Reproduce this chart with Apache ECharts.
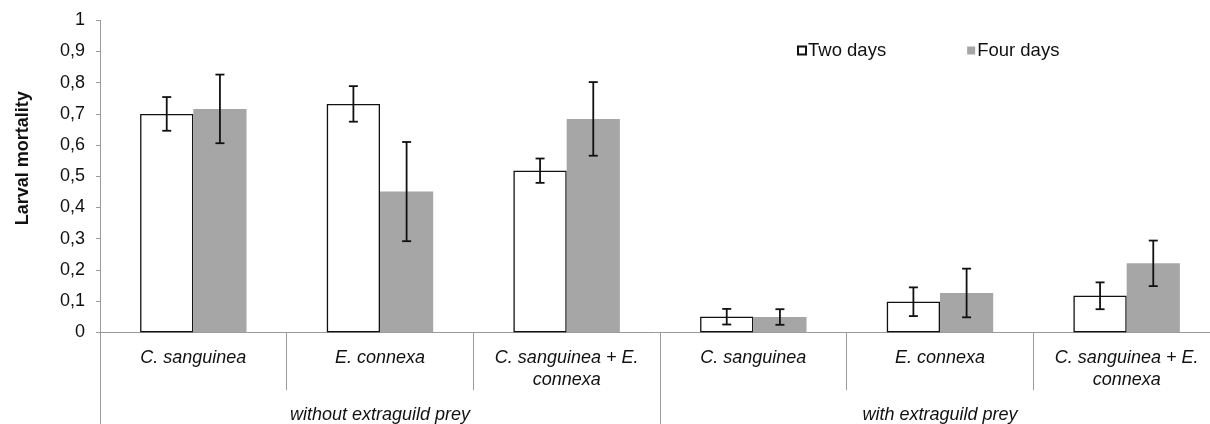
<!DOCTYPE html>
<html>
<head>
<meta charset="utf-8">
<script src="https://cdn.jsdelivr.net/npm/echarts@6/dist/echarts.min.js"></script>
<style>
html,body{margin:0;padding:0;background:#fff;}
#chart{width:1210px;height:424px;}
</style>
</head>
<body>
<div id="chart"></div>
<script>
var categories = ['C. sanguinea', 'E. connexa', 'C. sanguinea + E.\nconnexa', 'C. sanguinea', 'E. connexa', 'C. sanguinea + E.\nconnexa'];
var groups = ['without extraguild prey', 'with extraguild prey'];
var seriesNames = ['Two days', 'Four days'];
var twoDays = [0.700, 0.732, 0.518, 0.050, 0.098, 0.117];
var twoDaysErr = [0.054, 0.057, 0.039, 0.025, 0.046, 0.043];
var fourDays = [0.716, 0.451, 0.684, 0.049, 0.126, 0.221];
var fourDaysErr = [0.110, 0.159, 0.118, 0.025, 0.078, 0.073];
var yTicks = [0, 0.1, 0.2, 0.3, 0.4, 0.5, 0.6, 0.7, 0.8, 0.9, 1];

var FONT = 'Liberation Sans, Arial, sans-serif';
var AXIS_GRAY = '#9a9a9a';
var GRAY_FILL = '#a6a6a6';
var CAT_GAP = 0.43;

function errData(vals, errs) {
  return vals.map(function (v, i) { return [i, v, errs[i]]; });
}

function errRender(side) {
  return function (params, api) {
    var idx = api.value(0);
    var v = api.value(1);
    var e = api.value(2);
    var band = api.size([1, 0])[0];
    var bw = band * (1 - CAT_GAP) / 2;
    var c = api.coord([idx, v]);
    var x = c[0] + side * bw / 2;
    var top = api.coord([idx, v + e])[1];
    var bot = api.coord([idx, v - e])[1];
    var cap = 4.5;
    var st = { stroke: '#111', lineWidth: 1.8 };
    return {
      type: 'group',
      children: [
        { type: 'line', shape: { x1: x, y1: top, x2: x, y2: bot }, style: st },
        { type: 'line', shape: { x1: x - cap, y1: top, x2: x + cap, y2: top }, style: st },
        { type: 'line', shape: { x1: x - cap, y1: bot, x2: x + cap, y2: bot }, style: st }
      ]
    };
  };
}

var chart = echarts.init(document.getElementById('chart'), null, { renderer: 'canvas' });
chart.setOption({
  animation: false,
  backgroundColor: '#fff',
  textStyle: { fontFamily: FONT },
  grid: { left: 100, width: 1120, top: 20.3, height: 312, containLabel: false, outerBoundsMode: 'none' },
  legend: {
    data: seriesNames,
    left: 797,
    top: 41,
    padding: 0,
    icon: 'rect',
    itemWidth: 8,
    itemHeight: 8,
    itemGap: 81,
    textStyle: { fontFamily: FONT, fontSize: 18.5, color: '#111', padding: [0, 0, 0, -3] }
  },
  xAxis: [
    {
      type: 'category',
      data: categories,
      position: 'bottom',
      axisLine: { show: true, lineStyle: { color: AXIS_GRAY, width: 1 } },
      axisTick: { show: true, interval: 0, length: 58, lineStyle: { color: AXIS_GRAY } },
      axisLabel: {
        interval: 0, margin: 15, fontFamily: FONT, fontSize: 18, fontStyle: 'italic',
        color: '#111', lineHeight: 22
      },
      splitLine: { show: false }
    },
    {
      type: 'category',
      data: groups,
      position: 'bottom',
      axisLine: { show: false },
      axisTick: { show: true, interval: 0, length: 92, lineStyle: { color: AXIS_GRAY } },
      axisLabel: {
        interval: 0, margin: 74, fontFamily: FONT, fontSize: 18, fontStyle: 'italic', color: '#111'
      },
      splitLine: { show: false }
    }
  ],
  yAxis: {
    type: 'value',
    min: 0,
    max: 1,
    interval: 0.1,
    name: 'Larval mortality',
    nameLocation: 'middle',
    nameGap: 68,
    nameTextStyle: { fontFamily: FONT, fontSize: 18, fontWeight: 'bold', color: '#111', padding: [0, 0, 0, 36] },
    axisLine: { show: true, lineStyle: { color: AXIS_GRAY, width: 1 } },
    axisTick: { show: true, length: 4, lineStyle: { color: AXIS_GRAY } },
    axisLabel: {
      margin: 15, fontFamily: FONT, fontSize: 18, color: '#111',
      formatter: function (v) {
        var t = yTicks.filter(function (k) { return Math.abs(k - v) < 1e-9; });
        var val = t.length ? t[0] : v;
        return String(Math.round(val * 10) / 10).replace('.', ',');
      }
    },
    splitLine: { show: false }
  },
  series: [
    {
      name: seriesNames[0],
      type: 'bar',
      data: twoDays,
      barGap: '0%',
      barCategoryGap: (CAT_GAP * 100) + '%',
      itemStyle: { color: '#ffffff', borderColor: '#111', borderWidth: 1.3 }
    },
    {
      name: seriesNames[1],
      type: 'bar',
      data: fourDays,
      barGap: '0%',
      barCategoryGap: (CAT_GAP * 100) + '%',
      itemStyle: { color: GRAY_FILL, borderWidth: 0 }
    },
    {
      type: 'custom',
      name: 'err2',
      renderItem: errRender(-1),
      encode: { x: 0, y: 1 },
      data: errData(twoDays, twoDaysErr),
      z: 10,
      silent: true
    },
    {
      type: 'custom',
      name: 'err4',
      renderItem: errRender(1),
      encode: { x: 0, y: 1 },
      data: errData(fourDays, fourDaysErr),
      z: 10,
      silent: true
    }
  ]
});
</script>
</body>
</html>
